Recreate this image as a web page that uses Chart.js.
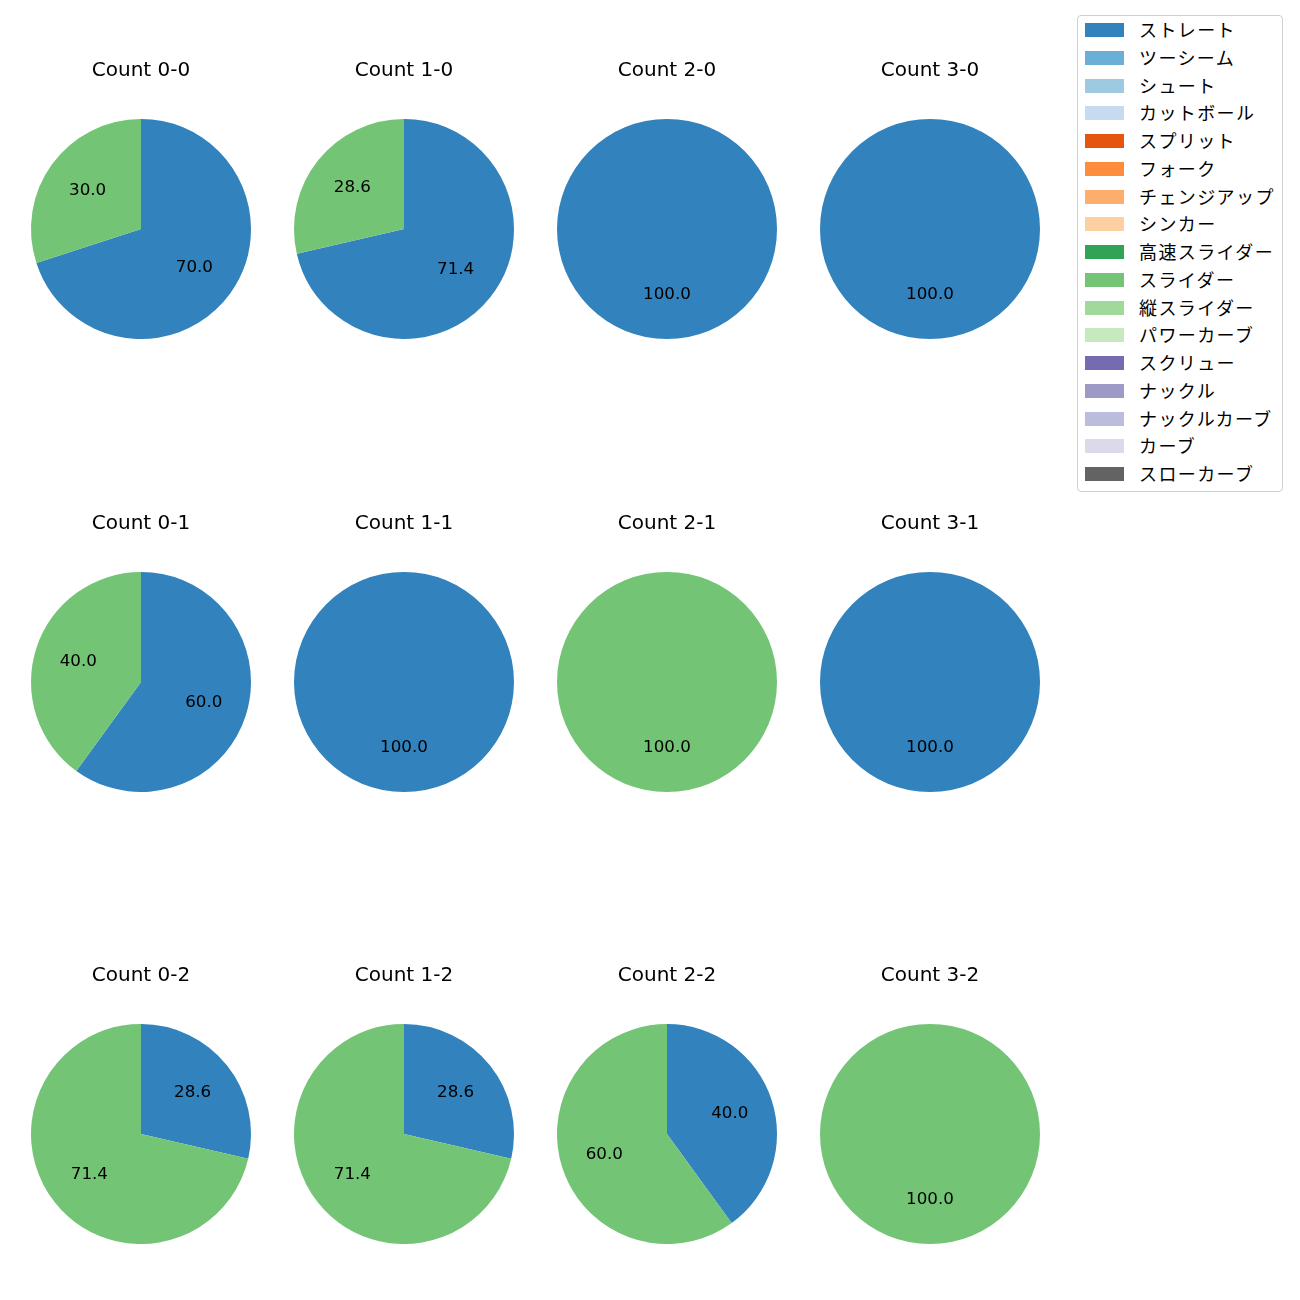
<!DOCTYPE html>
<html>
<head>
<meta charset="utf-8">
<script src="https://cdn.jsdelivr.net/npm/chart.js@4"></script>
<style>
  html, body { margin: 0; padding: 0; background: #fff; }
  body { width: 1300px; height: 1300px; position: relative; overflow: hidden; font-family: "Noto Sans CJK JP", "Noto Sans", sans-serif; }
  canvas.pie { position: absolute; }
  #legend { position: absolute; left: 1077px; top: 15px; width: 206px; height: 477px; border: 1px solid #d0d0d0; border-radius: 4px; box-sizing: border-box; background: #fff; }
  .item { position: absolute; left: 0; height: 20px; }
  .sw { position: absolute; left: 7px; top: 3px; width: 39px; height: 14px; }
  .lb { position: absolute; left: 61px; top: -3px; font-size: 18px; line-height: 24px; color: #000; white-space: nowrap; letter-spacing: 1.4px; }
</style>
</head>
<body>
<div id="legend"></div>
<script>
// ---- data ----
const counts = ['0-0','1-0','2-0','3-0','0-1','1-1','2-1','3-1','0-2','1-2','2-2','3-2'];
const pitchTypes = ['ストレート','ツーシーム','シュート','カットボール','スプリット','フォーク','チェンジアップ','シンカー','高速スライダー','スライダー','縦スライダー','パワーカーブ','スクリュー','ナックル','ナックルカーブ','カーブ','スローカーブ'];
const pitchColors = ['#3182bd','#6baed6','#9ecae1','#c6dbef','#e6550d','#fd8d3c','#fdae6b','#fdd0a2','#31a354','#74c476','#a1d99b','#c7e9c0','#756bb1','#9e9ac8','#bcbddc','#dadaeb','#636363'];
const straightPct = [70.0, 71.4, 100.0, 100.0, 60.0, 100.0, 0, 100.0, 28.6, 28.6, 40.0, 0];
const sliderPct   = [30.0, 28.6, 0, 0, 40.0, 0, 100.0, 0, 71.4, 71.4, 60.0, 100.0];

// ---- layout ----
const colX = [141, 404, 667, 930];
const rowY = [229, 682, 1134];
const FONT = '"DejaVu Sans", "Noto Sans CJK JP", sans-serif';

const pctLabels = {
  id: 'pctLabels',
  afterDatasetsDraw(chart) {
    const ctx = chart.ctx;
    const meta = chart.getDatasetMeta(0);
    const data = chart.data.datasets[0].data;
    const total = data.reduce((a, b) => a + b, 0);
    ctx.save();
    ctx.fillStyle = '#000';
    ctx.font = '16.7px ' + FONT;
    ctx.textAlign = 'center';
    ctx.textBaseline = 'middle';
    meta.data.forEach((arc, i) => {
      if (!data[i]) return;
      const p = arc.getProps(['x','y','startAngle','endAngle','outerRadius'], true);
      const mid = (p.startAngle + p.endAngle) / 2;
      const r = p.outerRadius * 0.6;
      ctx.fillText((data[i] / total * 100).toFixed(1), p.x + Math.cos(mid) * r, p.y + Math.sin(mid) * r);
    });
    ctx.restore();
  }
};

counts.forEach((c, i) => {
  const cx = colX[i % 4], cy = rowY[Math.floor(i / 4)];
  const cv = document.createElement('canvas');
  cv.className = 'pie';
  cv.style.left = (cx - 130) + 'px';
  cv.style.top = (cy - 170) + 'px';
  cv.style.width = '260px';
  cv.style.height = '280px';
  cv.width = 260; cv.height = 280;
  document.body.appendChild(cv);
  const labels = [], vals = [], cols = [];
  if (straightPct[i]) { labels.push(pitchTypes[0]); vals.push(straightPct[i]); cols.push(pitchColors[0]); }
  if (sliderPct[i]) { labels.push(pitchTypes[9]); vals.push(sliderPct[i]); cols.push(pitchColors[9]); }
  new Chart(cv, {
    type: 'pie',
    data: { labels: labels, datasets: [{ data: vals, backgroundColor: cols, borderWidth: 0 }] },
    options: {
      responsive: false,
      animation: false,
      events: [],
      layout: { padding: { left: 20, right: 20, top: 0, bottom: 0 } },
      plugins: {
        legend: { display: false },
        tooltip: { enabled: false },
        title: {
          display: true,
          text: 'Count ' + c,
          color: '#000',
          font: { family: FONT, size: 20, weight: 'normal', lineHeight: 1.0 },
          padding: { top: 2, bottom: 38 }
        }
      }
    },
    plugins: [pctLabels]
  });
});

// ---- legend ----
const lg = document.getElementById('legend');
pitchTypes.forEach((t, i) => {
  const it = document.createElement('div');
  it.className = 'item';
  it.style.top = (4 + i * 27.75) + 'px';
  it.innerHTML = '<div class="sw" style="background:' + pitchColors[i] + '"></div><div class="lb">' + t + '</div>';
  lg.appendChild(it);
});
</script>
</body>
</html>
